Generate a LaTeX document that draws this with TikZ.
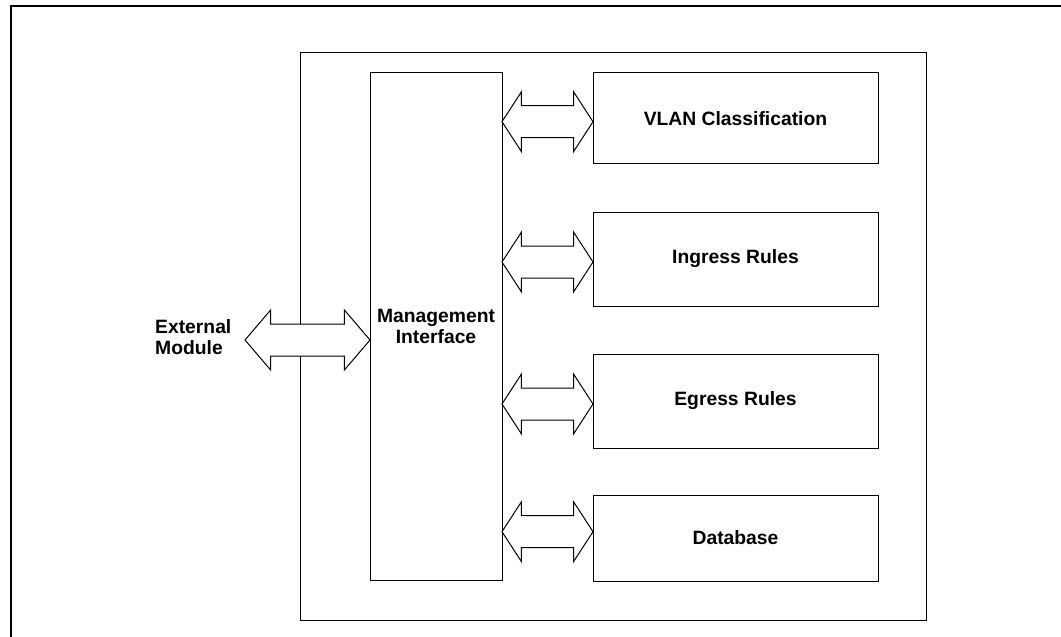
\documentclass[tikz,border=0pt]{standalone}
\usepackage{fontspec}
\setmainfont{Liberation Sans}
\usepackage{tikz}
\usetikzlibrary{shapes.arrows}

\begin{document}
\begin{tikzpicture}[x=1pt, y=-1pt,
  blk/.style={rectangle, draw, line width=1pt, inner sep=0pt,
              font=\bfseries\fontsize{19.3}{21}\selectfont, align=center},
  bus/.style={double arrow, draw, line width=1pt, fill=white,
              inner xsep=0pt, inner ysep=15.5pt,
              minimum width=59pt, double arrow head extend=14pt,
              double arrow tip angle=114},
  lbl/.style={inner sep=0pt, align=left,
              font=\bfseries\fontsize{19.3}{21}\selectfont}]
  \useasboundingbox (0,0) rectangle (1061,637);
  \draw[line width=2pt] (1062,6) -- (11,6) -- (11,638);
  \node[blk, minimum width=626pt, minimum height=568pt] (n0) at (613.9,336.9) {};
  \node[blk, minimum width=132pt, minimum height=508pt] (n1) at (436,326.9) {Management\\Interface};
  \node[blk, minimum width=285pt, minimum height=91pt] (n2) at (735.5,118.4) {VLAN Classification};
  \node[blk, minimum width=285pt, minimum height=94pt] (n3) at (735.5,259) {Ingress Rules};
  \node[blk, minimum width=285pt, minimum height=94pt] (n4) at (735.5,401) {Egress Rules};
  \node[blk, minimum width=285pt, minimum height=86pt] (n5) at (735.5,538) {Database};
  \node[lbl, anchor=west] (n6) at (155,337) {External\\Module};
  \node[bus, minimum height=125pt, double arrow tip angle=99] (n7) at (307.5,340) {};
  \node[bus, minimum height=91pt] (n8) at (547.5,121.7) {};
  \node[bus, minimum height=91pt] (n9) at (547.5,262) {};
  \node[bus, minimum height=91pt] (n10) at (547.5,404) {};
  \node[bus, minimum height=91pt] (n11) at (547.5,531.7) {};
\end{tikzpicture}
\end{document}
